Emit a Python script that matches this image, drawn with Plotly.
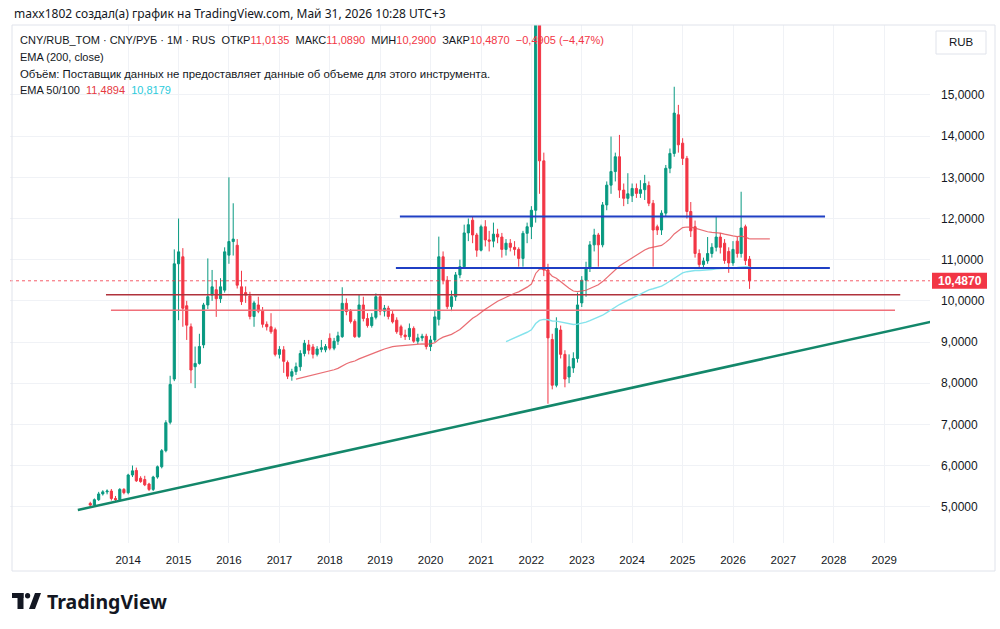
import numpy as np
import pandas as pd
import plotly.graph_objects as go

# ---------------- data (monthly CNY/RUB_TOM) ----------------
START_MONTH = "2013-04-01"

opens = [
    5.08, 5.04, 5.17, 5.31, 5.36, 5.38, 5.20, 5.17, 5.42,
    5.34, 5.77, 5.88, 5.69, 5.66, 5.55, 5.42, 5.72, 5.97, 6.36, 7.05, 8.10,
    10.90, 11.07, 9.88, 9.37, 8.40, 8.48, 8.93, 9.90, 10.14, 10.27, 10.05, 10.26,
    11.11, 11.44, 11.35, 10.34, 10.20, 10.12, 9.62, 9.90, 9.75, 9.43, 9.37, 9.30,
    8.70, 8.81, 8.50, 8.17, 8.28, 8.40, 8.72, 8.93, 8.88, 8.70, 8.82, 8.81,
    9.09, 8.85, 9.02, 9.13, 9.94, 9.74, 9.50, 9.13, 9.90, 9.57, 9.40, 9.60,
    10.10, 9.75, 9.82, 9.68, 9.53, 9.37, 9.17, 9.13, 9.33, 9.02, 9.10, 9.14,
    8.89, 9.05, 9.55, 11.07, 10.50, 9.86, 10.10, 10.63, 10.83, 11.65, 11.96, 11.60,
    11.23, 11.80, 11.48, 11.45, 11.62, 11.55, 11.25, 11.40, 11.30, 11.25, 11.03, 11.64,
    11.80, 12.20, 17.00, 13.40, 10.75, 9.06, 7.95, 9.29, 8.70, 8.15, 8.37, 8.60,
    9.95, 10.50, 10.80, 11.36, 11.60, 11.36, 12.33, 12.81, 13.14, 13.50, 12.69, 12.49,
    12.55, 12.73, 12.61, 12.70, 12.80, 12.37, 11.80, 11.72, 12.13, 13.22, 13.58, 14.52,
    13.83, 13.46, 12.17, 11.80, 11.15, 10.88, 10.97, 11.15, 11.30, 11.55, 11.40, 11.20,
    10.92, 11.45, 11.15, 11.80, 11.0135,
]
highs = [
    5.12, 5.20, 5.36, 5.40, 5.42, 5.43, 5.26, 5.45, 5.45,
    5.80, 6.00, 5.95, 5.74, 5.75, 5.58, 5.75, 6.00, 6.40, 7.10, 8.18, 11.25,
    12.00, 11.28, 10.00, 9.45, 8.89, 9.20, 9.95, 11.03, 10.75, 10.50, 10.55, 11.30,
    13.00, 12.37, 11.50, 10.73, 10.35, 10.22, 10.00, 10.10, 9.85, 9.50, 9.70, 9.35,
    8.90, 8.90, 8.55, 8.35, 8.50, 8.80, 9.05, 9.05, 8.95, 8.90, 9.05, 8.95,
    9.21, 9.10, 9.25, 10.33, 10.06, 9.80, 9.55, 10.15, 10.10, 9.70, 9.70, 10.18,
    10.15, 9.90, 9.88, 9.75, 9.60, 9.42, 9.30, 9.45, 9.38, 9.20, 9.20, 9.20,
    9.15, 9.75, 11.56, 11.20, 10.60, 10.25, 10.70, 11.00, 11.85, 12.00, 12.06, 11.65,
    11.85, 11.96, 11.70, 11.90, 11.75, 11.65, 11.50, 11.50, 11.45, 11.30, 11.70, 11.90,
    12.30, 18.00, 21.00, 13.60, 10.90, 9.20, 9.60, 9.40, 8.80, 8.70, 8.75, 10.20,
    10.60, 10.95, 11.45, 11.75, 11.65, 12.40, 12.90, 13.99, 13.60, 14.03, 12.85, 13.10,
    12.85, 12.85, 12.93, 13.06, 12.90, 12.45, 11.85, 12.20, 13.30, 13.70, 15.20, 14.76,
    13.95, 13.52, 12.40, 11.95, 11.25, 11.05, 11.55, 11.40, 12.06, 11.65, 11.50, 11.30,
    11.45, 11.55, 12.65, 11.85, 11.089,
]
lows = [
    5.00, 5.01, 5.14, 5.27, 5.30, 5.15, 5.12, 5.15, 5.30,
    5.30, 5.72, 5.60, 5.58, 5.50, 5.38, 5.38, 5.68, 5.93, 6.32, 7.00, 8.05,
    9.53, 9.37, 9.05, 8.00, 7.88, 8.45, 8.85, 9.80, 10.00, 9.61, 9.95, 10.20,
    10.90, 11.10, 10.30, 9.90, 9.95, 9.55, 9.37, 9.70, 9.35, 9.28, 9.20, 8.65,
    8.60, 8.25, 8.10, 8.06, 8.20, 8.30, 8.65, 8.70, 8.60, 8.65, 8.75, 8.75,
    8.80, 8.80, 8.93, 9.10, 9.65, 9.45, 9.10, 9.10, 9.50, 9.35, 9.35, 9.55,
    9.65, 9.62, 9.55, 9.45, 9.20, 9.10, 9.05, 9.05, 8.98, 8.95, 9.02, 8.82,
    8.78, 9.00, 9.40, 10.40, 9.80, 9.75, 10.00, 10.55, 10.80, 11.45, 11.40, 11.07,
    11.20, 11.32, 11.20, 11.30, 11.40, 11.05, 11.10, 11.20, 11.10, 10.83, 10.83, 11.40,
    11.50, 11.90, 12.60, 10.60, 7.50, 7.85, 7.90, 8.60, 7.90, 8.00, 8.25, 8.50,
    9.85, 10.10, 10.70, 11.20, 10.83, 11.30, 12.20, 12.60, 12.90, 12.50, 12.30, 12.35,
    12.40, 12.50, 12.50, 12.45, 12.30, 10.83, 11.60, 11.60, 12.05, 13.10, 13.50, 13.60,
    13.30, 12.00, 11.55, 11.05, 10.82, 10.80, 10.90, 11.05, 11.20, 11.15, 10.90, 10.68,
    10.85, 11.05, 11.05, 10.87, 10.29,
]
closes = [
    5.04, 5.17, 5.31, 5.36, 5.38, 5.20, 5.17, 5.42, 5.34,
    5.77, 5.87, 5.63, 5.61, 5.53, 5.42, 5.72, 5.97, 6.36, 7.04, 7.97, 10.90,
    11.19, 9.82, 9.41, 8.32, 8.48, 8.89, 9.90, 10.10, 10.34, 10.05, 10.34, 11.19,
    11.44, 11.50, 10.38, 9.98, 10.14, 9.62, 9.95, 9.75, 9.43, 9.37, 9.25, 8.70,
    8.82, 8.53, 8.17, 8.28, 8.40, 8.72, 8.97, 8.80, 8.70, 8.83, 8.86, 8.89,
    8.85, 9.02, 9.15, 9.94, 9.74, 9.50, 9.13, 9.90, 9.57, 9.40, 9.60, 10.10,
    9.75, 9.82, 9.62, 9.49, 9.25, 9.17, 9.13, 9.33, 9.02, 9.10, 9.14, 8.89,
    9.05, 9.61, 11.07, 10.50, 9.86, 10.10, 10.63, 10.83, 11.65, 11.85, 11.60, 11.23,
    11.80, 11.48, 11.45, 11.62, 11.55, 11.25, 11.40, 11.30, 11.25, 11.03, 11.64, 11.80,
    12.20, 17.00, 13.40, 10.75, 9.10, 7.95, 9.33, 8.70, 8.10, 8.40, 8.60, 9.90,
    10.50, 10.80, 11.36, 11.60, 11.36, 12.33, 12.81, 13.14, 13.50, 12.69, 12.49, 12.60,
    12.73, 12.61, 12.70, 12.85, 12.37, 11.72, 11.72, 12.13, 13.22, 13.58, 14.56, 13.79,
    13.46, 12.17, 11.70, 11.15, 10.88, 10.97, 11.15, 11.30, 11.55, 11.30, 10.98, 10.92,
    11.25, 11.15, 11.77, 10.9775, 10.487,
]

# indicator settings and legend values (text as shown)
EMA_FAST, EMA_SLOW = 50, 100
EMA_LEGEND_VALUES = ["11,4894", "10,8179"]
EMA_FAST_EXT_END = "2026-09-25"

# axis ticks
Y_TICKS = [5, 6, 7, 8, 9, 10, 11, 12, 13, 14, 15]
X_TICK_YEARS = list(range(2014, 2030))

# drawings (levels and anchor dates)
BLUE_LEVELS = [12.05, 10.80]
BLUE_STARTS = ["2019-05-24", "2019-04-25"]
BLUE_ENDS = ["2027-10-30", "2027-12-04"]
RED_LEVELS = [10.15, 9.77]
RED_STARTS = ["2013-07-24", "2013-08-29"]
RED_ENDS = ["2029-04-27", "2029-03-20"]
RED_COLORS = ["#b0323c", "#f0707a"]
TREND_DATES = ["2013-01-01", "2030-01-01"]
TREND_VALUES = [4.92, 9.51]

# ---------------- derived ----------------
dates = pd.date_range(START_MONTH, periods=len(closes), freq="MS")


def ema(values, n):
    out = [np.nan] * len(values)
    if len(values) >= n:
        prev = float(np.mean(values[:n]))
        out[n - 1] = prev
        a = 2.0 / (n + 1)
        for i in range(n, len(values)):
            prev = a * values[i] + (1 - a) * prev
            out[i] = prev
    return out


ema_fast = ema(closes, EMA_FAST)
ema_slow = ema(closes, EMA_SLOW)


def fmt(v):
    return f"{v:.4f}".replace(".", ",")


# ---------------- geometry ----------------
W, H = 1000, 629
PL, PR, PT, PB = 10, 930, 25, 543
JAN2014_PX = 128.2
PX_PER_DAY = 4.2 / 30.4375


def px_to_date(px):
    return pd.Timestamp("2014-01-01") + pd.Timedelta(days=(px - JAN2014_PX) / PX_PER_DAY)


def pxx(px):
    return (px - PL) / (PR - PL)


def pxy(py):
    return (PB - py) / (PB - PT)


Y_RANGE = [4.118, 16.70]
X_RANGE = [px_to_date(PL), px_to_date(PR)]

GREEN = "#089981"
RED = "#f23645"
TXT = "#131722"
FONT = "Noto Sans"
LFONT = "Liberation Sans"

fig = go.Figure()

# horizontal red levels
for lvl, s, e, c in zip(RED_LEVELS, RED_STARTS, RED_ENDS, RED_COLORS):
    fig.add_trace(go.Scatter(x=[s, e], y=[lvl, lvl], mode="lines",
                             line=dict(color=c, width=1.5), hoverinfo="skip", showlegend=False))

# EMA lines
fig.add_trace(go.Scatter(x=dates, y=ema_fast, mode="lines",
                         line=dict(color="rgba(229,83,90,0.85)", width=1.2),
                         hoverinfo="skip", showlegend=False))
fig.add_trace(go.Scatter(x=[dates[-1], EMA_FAST_EXT_END], y=[ema_fast[-1], ema_fast[-1]], mode="lines",
                         line=dict(color="rgba(229,83,90,0.85)", width=1.2),
                         hoverinfo="skip", showlegend=False))
fig.add_trace(go.Scatter(x=dates, y=ema_slow, mode="lines",
                         line=dict(color="#84e3ec", width=1.4),
                         hoverinfo="skip", showlegend=False))

# candles
fig.add_trace(go.Candlestick(
    x=dates, open=opens, high=highs, low=lows, close=closes,
    increasing=dict(line=dict(color=GREEN, width=1), fillcolor=GREEN),
    decreasing=dict(line=dict(color=RED, width=1), fillcolor=RED),
    whiskerwidth=0, showlegend=False, hoverinfo="skip"))

# blue levels
for lvl, s, e in zip(BLUE_LEVELS, BLUE_STARTS, BLUE_ENDS):
    fig.add_trace(go.Scatter(x=[s, e], y=[lvl, lvl], mode="lines",
                             line=dict(color="#1f3fc4", width=2), hoverinfo="skip", showlegend=False))

# trend line
fig.add_trace(go.Scatter(x=TREND_DATES, y=TREND_VALUES, mode="lines",
                         line=dict(color="#13876a", width=2.5), hoverinfo="skip", showlegend=False))

# last price dotted line
fig.add_trace(go.Scatter(x=[X_RANGE[0], X_RANGE[1]], y=[closes[-1], closes[-1]], mode="lines",
                         line=dict(color="rgba(242,54,69,0.8)", width=1, dash="dot"),
                         hoverinfo="skip", showlegend=False))

shapes = []
FRAME = "#e0e3eb"
for (a, b, c, d) in [(12, 995, 25, 25), (12, 12, 25, 571), (12, 995, 571, 571), (995, 995, 25, 571)]:
    shapes.append(dict(type="line", xref="paper", yref="paper", x0=pxx(a), x1=pxx(b), y0=pxy(c), y1=pxy(d),
                       line=dict(color=FRAME, width=1)))
# RUB box
shapes.append(dict(type="rect", xref="paper", yref="paper", x0=pxx(936), x1=pxx(986), y0=pxy(31), y1=pxy(54),
                   line=dict(color="#e0e3eb", width=1), fillcolor="white"))
# last price label
ly = 506.7 - (closes[-1] - 5) * 41.17
shapes.append(dict(type="rect", xref="paper", yref="paper", x0=pxx(932), x1=pxx(987),
                   y0=pxy(ly - 8), y1=pxy(ly + 8), line=dict(width=0), fillcolor=RED))
# TradingView logo
LOGO = "#131722"
shapes.append(dict(type="rect", xref="paper", yref="paper", x0=pxx(12), x1=pxx(23.5), y0=pxy(593), y1=pxy(598),
                   line=dict(width=0), fillcolor=LOGO))
shapes.append(dict(type="rect", xref="paper", yref="paper", x0=pxx(17.5), x1=pxx(23.5), y0=pxy(593), y1=pxy(609),
                   line=dict(width=0), fillcolor=LOGO))
shapes.append(dict(type="circle", xref="paper", yref="paper", x0=pxx(25), x1=pxx(30.2), y0=pxy(593), y1=pxy(598.5),
                   line=dict(width=0), fillcolor=LOGO))
shapes.append(dict(type="path", xref="paper", yref="paper",
                   path=f"M {pxx(29)} {pxy(609)} L {pxx(35)} {pxy(609)} L {pxx(41)} {pxy(593)} L {pxx(35)} {pxy(593)} Z",
                   line=dict(width=0), fillcolor=LOGO))

ann = []


def add_text(px, py, text, size=12, color=TXT, xanchor="left", family=FONT):
    ann.append(dict(xref="paper", yref="paper", x=pxx(px), y=pxy(py), text=text, showarrow=False,
                    xanchor=xanchor, yanchor="middle", font=dict(family=family, size=size, color=color)))


add_text(12, 13, "maxx1802 создал(а) график на TradingView.com, Май 31, 2026 10:28 UTC+3", size=12)

chg = closes[-1] - closes[-2]
pct = chg / closes[-2] * 100
sp = "\u00a0"


def red(v):
    return f'<span style="color:{RED}">{v}</span>'


sign = "−" if chg < 0 else "+"
chg_txt = f"{sign}{fmt(abs(chg))} ({sign}{abs(pct):.2f}%)".replace(".", ",")
line1 = (f"CNY/RUB_TOM · CNY/РУБ · 1M · RUS{sp}{sp}ОТКР{red(fmt(opens[-1]))}{sp}{sp}"
         f"МАКС{red(fmt(highs[-1]))}{sp}{sp}МИН{red(fmt(lows[-1]))}{sp}{sp}ЗАКР{red(fmt(closes[-1]))}"
         f"{sp}{sp}{red(chg_txt)}")
add_text(18, 40, line1, size=11, family=LFONT)
add_text(18, 57, "EMA (200, close)", size=11, family=LFONT)
add_text(18, 74, "Объём: Поставщик данных не предоставляет данные об объеме для этого инструмента.",
         size=11.4, family=LFONT)
add_text(18, 90, f'EMA 50/100{sp}{sp}<span style="color:#e5393f">{EMA_LEGEND_VALUES[0]}</span>{sp}{sp}'
                 f'<span style="color:#2ccbdc">{EMA_LEGEND_VALUES[1]}</span>', size=11, family=LFONT)
add_text(961, 42.5, "RUB", size=11.5, xanchor="center", family=LFONT)
add_text(959.5, ly, f"<b>{fmt(closes[-1])}</b>", size=12, color="white", xanchor="center", family=LFONT)
add_text(45, 601, "<b>TradingView</b>", size=19.5, color=LOGO)

fig.update_layout(
    width=W, height=H,
    margin=dict(l=PL, r=W - PR, t=PT, b=H - PB),
    paper_bgcolor="white", plot_bgcolor="white",
    showlegend=False,
    boxgap=0.45, boxgroupgap=0.0,
    shapes=shapes, annotations=ann,
    font=dict(family=FONT, color=TXT, size=12),
)
fig.update_xaxes(
    type="date", range=X_RANGE, rangeslider=dict(visible=False),
    tickvals=[f"{y}-01-01" for y in X_TICK_YEARS], ticktext=[str(y) for y in X_TICK_YEARS],
    showgrid=True, gridcolor="#f0f2f6", gridwidth=1, zeroline=False, showline=False,
    ticks="", tickfont=dict(size=11.5, color=TXT, family=LFONT), ticklabelstandoff=8,
)
fig.update_yaxes(
    side="right", range=Y_RANGE, tickvals=Y_TICKS, ticktext=[fmt(v) for v in Y_TICKS],
    showgrid=True, gridcolor="#f0f2f6", gridwidth=1, zeroline=False, showline=False,
    ticks="", tickfont=dict(size=12, color=TXT, family=LFONT), ticklabelstandoff=10,
)

fig.write_html("out.html")
